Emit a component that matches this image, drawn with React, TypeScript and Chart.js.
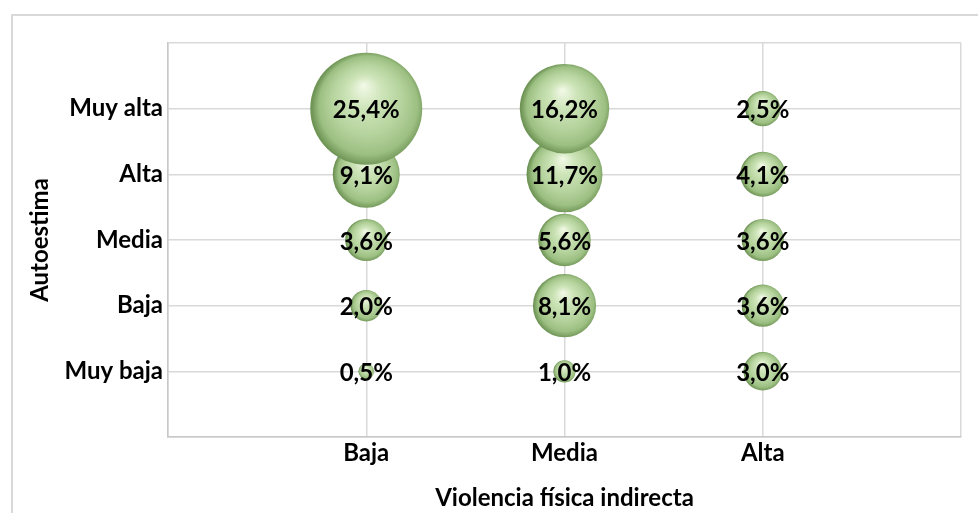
import React, { useEffect, useRef } from "react";
import { Chart, registerables } from "chart.js";

Chart.register(...registerables);

const xCategories = ["Baja", "Media", "Alta"];
const yCategories = ["Muy baja", "Baja", "Media", "Alta", "Muy alta"];
// values ordered Muy baja -> Muy alta, one array per x category
const valuesBaja = [0.5, 2.0, 3.6, 9.1, 25.4];
const valuesMedia = [1.0, 8.1, 5.6, 11.7, 16.2];
const valuesAlta = [3.0, 3.6, 3.6, 4.1, 2.5];
const xTitle = "Violencia física indirecta";
const yTitle = "Autoestima";

const FONT = "Lato, 'Open Sans', sans-serif";
const MAX_R = 56;
const maxVal = Math.max(...valuesBaja, ...valuesMedia, ...valuesAlta);

function bubbleFill(ctx: any) {
  const chart = ctx.chart;
  const raw = ctx.raw;
  if (!raw || !chart.scales || !chart.scales.x || !chart.scales.y) return "#b4d39c";
  const cx = chart.scales.x.getPixelForValue(raw.x);
  const cy = chart.scales.y.getPixelForValue(raw.y);
  const r = MAX_R * Math.sqrt(raw.v / maxVal);
  if (!isFinite(cx) || !isFinite(cy) || !isFinite(r) || r <= 0) return "#b4d39c";
  const g = chart.ctx.createRadialGradient(cx - r * 0.05, cy - r * 0.42, 0, cx + r * 0.05, cy, r * 1.02);
  g.addColorStop(0, "#f3f9e8");
  g.addColorStop(0.3, "#cde4b8");
  g.addColorStop(0.62, "#b5d39d");
  g.addColorStop(0.86, "#9cbf82");
  g.addColorStop(1, "#6f9556");
  return g;
}

const labelPlugin = {
  id: "bubbleLabels",
  afterDatasetsDraw(chart: any) {
    const c = chart.ctx;
    c.save();
    c.font = `bold 24px ${FONT}`;
    c.fillStyle = "#000";
    c.textAlign = "center";
    c.textBaseline = "middle";
    chart.data.datasets.forEach((ds: any, di: number) => {
      const meta = chart.getDatasetMeta(di);
      meta.data.forEach((el: any, i: number) => {
        const v = ds.data[i].v;
        c.fillText(v.toFixed(1).replace(".", ",") + "%", el.x, el.y + 2);
      });
    });
    c.restore();
  },
};

function zeroPad(s: any) {
  s.paddingLeft = 0;
  s.paddingRight = 0;
  s.paddingTop = 0;
  s.paddingBottom = 0;
}

export default function App() {
  const ref = useRef<HTMLCanvasElement>(null);
  useEffect(() => {
    const cols = [valuesBaja, valuesMedia, valuesAlta];
    const data: any[] = [];
    for (let yi = 0; yi < yCategories.length; yi++) {
      for (let xi = 0; xi < xCategories.length; xi++) {
        data.push({ x: xi + 1, y: yi + 1, v: cols[xi][yi] });
      }
    }
    const chart = new Chart(ref.current as HTMLCanvasElement, {
      type: "bubble",
      data: {
        datasets: [
          {
            data,
            radius: (ctx: any) => (ctx.raw ? MAX_R * Math.sqrt(ctx.raw.v / maxVal) : 3),
            backgroundColor: bubbleFill,
            borderWidth: 0,
            borderColor: "rgba(0,0,0,0)",
          } as any,
        ],
      },
      options: {
        animation: false,
        responsive: false,
        clip: false as any,
        layout: { autoPadding: false, padding: { left: 22, top: 43, right: 17, bottom: 0 } },
        plugins: { legend: { display: false }, tooltip: { enabled: false } },
        scales: {
          x: {
            type: "linear",
            min: 0,
            max: 4,
            afterFit: (s: any) => {
              s.height = 76;
              zeroPad(s);
            },
            ticks: {
              stepSize: 1,
              padding: 2,
              color: "#000",
              font: { family: FONT, size: 24, weight: "bold" },
              callback: (v: any) => (v >= 1 && v <= 3 ? xCategories[v - 1] : ""),
            },
            grid: { color: "#d9d9d9", lineWidth: 1.5, drawTicks: false },
            border: { color: "#c8c8c8", width: 1.5 },
            title: {
              display: true,
              text: xTitle,
              color: "#000",
              font: { family: FONT, size: 24, weight: "bold" },
              padding: { top: 0, bottom: 0 },
            },
          },
          y: {
            type: "linear",
            min: 0,
            max: 6,
            afterFit: (s: any) => {
              s.width = 168 - 22;
              zeroPad(s);
            },
            ticks: {
              stepSize: 1,
              padding: 5,
              color: "#000",
              font: { family: FONT, size: 24, weight: "bold" },
              callback: (v: any) => (v >= 1 && v <= 5 ? yCategories[v - 1] : ""),
            },
            grid: { color: "#d9d9d9", lineWidth: 1.5, drawTicks: false },
            border: { color: "#c8c8c8", width: 1.5 },
            title: {
              display: true,
              text: yTitle,
              color: "#000",
              font: { family: FONT, size: 24, weight: "bold" },
              padding: { top: 4, bottom: 0 },
            },
          },
        },
      },
      plugins: [labelPlugin],
    });
    return () => chart.destroy();
  }, []);

  return (
    <div style={{ position: "fixed", left: 0, top: 0, width: 978, height: 513, background: "#fff" }}>
      <div
        style={{
          position: "absolute",
          left: 11,
          top: 14,
          width: 978,
          height: 520,
          borderLeft: "2px solid #d9d9d9",
          borderTop: "2px solid #d9d9d9",
        }}
      />
      <canvas ref={ref} width={978} height={513} style={{ position: "absolute", left: 0, top: 0 }} />
    </div>
  );
}
